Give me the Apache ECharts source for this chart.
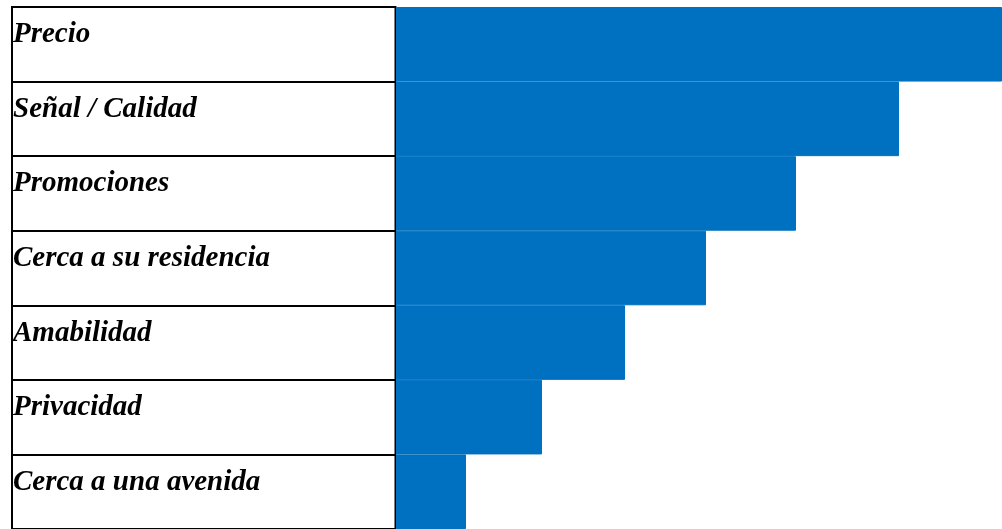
<!DOCTYPE html>
<html>
<head>
<meta charset="utf-8">
<script src="https://cdn.jsdelivr.net/npm/echarts@6/dist/echarts.min.js"></script>
<style>
html,body{margin:0;padding:0;background:#fff;}
#c{width:1002px;height:529px;}
</style>
</head>
<body>
<div id="c"></div>
<script>
const categories = ['Precio', 'Señal / Calidad', 'Promociones', 'Cerca a su residencia', 'Amabilidad', 'Privacidad', 'Cerca a una avenida'];
const values = [606, 503, 400, 310, 229, 146, 70];
const axisMax = 606;

const chart = echarts.init(document.getElementById('c'), null, {renderer: 'canvas'});
chart.setOption({
  animation: false,
  backgroundColor: '#fff',
  grid: [
    {left: 396, right: 0, top: 7, bottom: -3, containLabel: false},
    {left: 12, right: 606.5, top: 7, bottom: -3, show: true, borderColor: '#000', borderWidth: 2, backgroundColor: 'transparent', containLabel: false}
  ],
  xAxis: [
    {type: 'value', gridIndex: 0, min: 0, max: axisMax, show: false},
    {type: 'value', gridIndex: 1, min: 0, max: 1, show: false}
  ],
  yAxis: [
    {type: 'category', gridIndex: 0, data: categories, inverse: true, show: false},
    {
      type: 'category', gridIndex: 1, data: categories, inverse: true,
      axisLine: {show: false}, axisTick: {show: false},
      splitLine: {show: true, lineStyle: {color: '#000', width: 2}},
      axisLabel: {
        inside: true, margin: 1, color: '#000',
        fontFamily: '"Liberation Serif", "Times New Roman", serif',
        fontStyle: 'italic', fontWeight: 'bold', fontSize: 29, lineHeight: 19,
        verticalAlign: 'bottom'
      }
    }
  ],
  series: [{
    type: 'bar', xAxisIndex: 0, yAxisIndex: 0,
    data: values, barCategoryGap: 0, barWidth: '100%',
    itemStyle: {color: '#0070C0', borderColor: '#0070C0', borderWidth: 1}
  }]
});
</script>
</body>
</html>
